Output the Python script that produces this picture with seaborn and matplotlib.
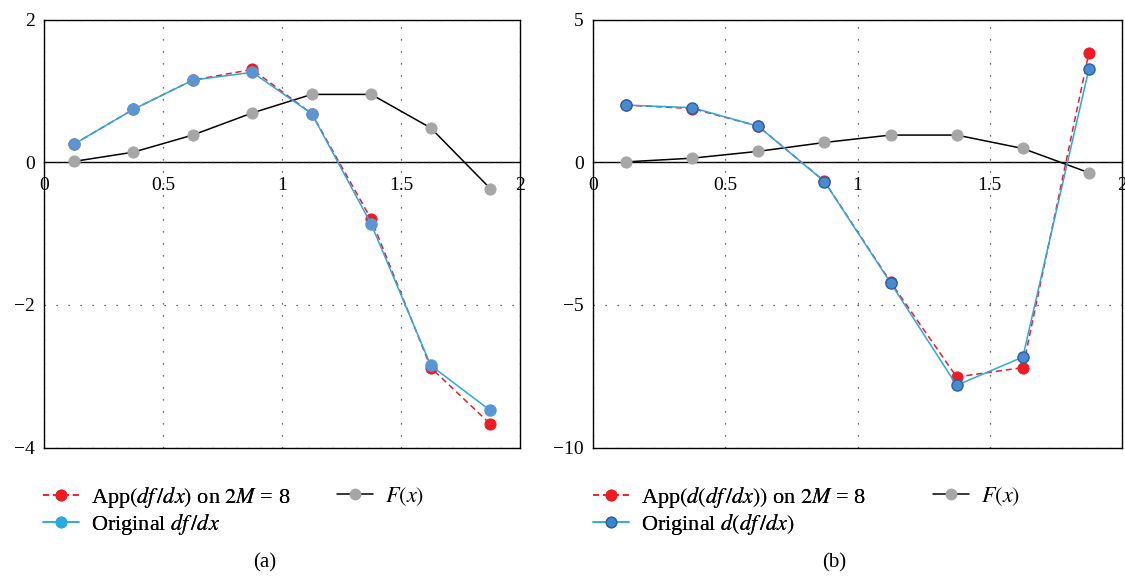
import matplotlib
matplotlib.use("Agg")
import matplotlib.pyplot as plt
from matplotlib.lines import Line2D
import numpy as np
import seaborn as sns

# ---------------- data ----------------
x_points = [0.125, 0.375, 0.625, 0.875, 1.125, 1.375, 1.625, 1.875]
F_values = [0.01, 0.14, 0.38, 0.69, 0.95, 0.95, 0.48, -0.37]

a_original = [0.25, 0.74, 1.15, 1.26, 0.68, -0.87, -2.85, -3.48]
a_approx = [0.25, 0.74, 1.15, 1.30, 0.68, -0.80, -2.88, -3.67]

b_original = [2.00, 1.91, 1.26, -0.68, -4.23, -7.82, -6.83, 3.27]
b_approx = [2.00, 1.88, 1.26, -0.67, -4.20, -7.53, -7.20, 3.84]

x_ticks = [0, 0.5, 1, 1.5, 2]
x_tick_labels = ["0", "0.5", "1", "1.5", "2"]
a_y_ticks = [-4, -2, 0, 2]
a_y_tick_labels = ["\u22124", "\u22122", "0", "2"]
b_y_ticks = [-10, -5, 0, 5]
b_y_tick_labels = ["\u221210", "\u22125", "0", "5"]

a_labels = [r"App$(df\,/dx)$ on $2M$ = 8", r"Original $df\,/dx$", r"$F(x)$"]
b_labels = [r"App$(d(df\,/dx))$ on $2M$ = 8", r"Original $d(df\,/dx)$", r"$F(x)$"]
captions = ["(a)", "(b)"]

# ---------------- style ----------------
sns.set_theme(style="white")
plt.rcParams["font.family"] = ["Liberation Serif", "DejaVu Serif"]
plt.rcParams["mathtext.fontset"] = "stix"
plt.rcParams["text.color"] = "black"
plt.rcParams["xtick.color"] = "black"
plt.rcParams["ytick.color"] = "black"

RED = "#ED1C24"
BLUE_LINE = "#29A9E1"
GRAY = "#A6A6A6"
TICK_FS = 14
LEG_FS = 16
DASH = (0, (4, 2.5))

W, H = 1125, 578
fig = plt.figure(figsize=(W / 100, H / 100), dpi=100)

ax_a = fig.add_axes([44 / W, 1 - 447.5 / H, 476 / W, 428 / H])
ax_b = fig.add_axes([593 / W, 1 - 447.5 / H, 529 / W, 428 / H])


def draw_panel(ax, orig, approx, ylim, yticks, yticklabels, labels,
               blue_face, blue_edge, leg_face, leg_edge,
               leg_x1, leg_x2, cap_x, caption):
    sns.lineplot(x=x_points, y=F_values, ax=ax, color="black", lw=1.1,
                 marker="o", markersize=8, markerfacecolor=GRAY,
                 markeredgecolor=GRAY, zorder=3)
    sns.lineplot(x=x_points, y=approx, ax=ax, color=RED, lw=1.1,
                 linestyle=DASH, marker="o", markersize=8,
                 markerfacecolor=RED, markeredgecolor=RED, zorder=4)
    sns.lineplot(x=x_points, y=orig, ax=ax, color=BLUE_LINE, lw=1.1,
                 marker="o", markersize=8, markerfacecolor=blue_face,
                 markeredgecolor=blue_edge, markeredgewidth=1.0, zorder=5)

    ax.set_xlim(0, 2)
    ax.set_ylim(*ylim)
    ax.set_xlabel("")
    ax.set_ylabel("")
    ax.set_xticks(x_ticks)
    ax.tick_params(axis="x", length=0, labelbottom=False)
    ax.set_yticks(yticks, yticklabels)
    ax.tick_params(axis="y", length=0, pad=6.5, labelsize=TICK_FS)
    ax.set_axisbelow(True)
    ax.grid(True, color="#333333", linestyle=(0, (1, 8.6)), linewidth=0.9)
    for sp in ax.spines.values():
        sp.set_color("black")
        sp.set_linewidth(1.0)
        sp.set_visible(True)

    # x-axis through y = 0 carrying the x tick labels
    frac0 = (0 - ylim[0]) / (ylim[1] - ylim[0])
    sax = ax.secondary_xaxis(frac0)
    sax.set_alignment("bottom")
    sax.set_xticks(x_ticks, x_tick_labels)
    sax.tick_params(length=0, pad=10.5, labelsize=TICK_FS)
    sax.spines["bottom"].set_color("black")
    sax.spines["bottom"].set_linewidth(1.0)

    h_app = Line2D([], [], color=RED, lw=1.1, linestyle=DASH, marker="o",
                   markersize=7.5, markerfacecolor=RED, markeredgecolor=RED)
    h_org = Line2D([], [], color=BLUE_LINE, lw=1.1, marker="o", markersize=7.5,
                   markerfacecolor=leg_face, markeredgecolor=leg_edge)
    h_F = Line2D([], [], color="black", lw=1.1, marker="o", markersize=7.5,
                 markerfacecolor=GRAY, markeredgecolor=GRAY)

    leg1 = fig.legend([h_app, h_org], labels[:2], loc="upper left",
                      bbox_to_anchor=(leg_x1 / W, 1 - 485 / H), frameon=False,
                      fontsize=LEG_FS, borderpad=0, borderaxespad=0,
                      handlelength=1.6, handletextpad=0.55, labelspacing=0.1)
    leg2 = fig.legend([h_F], labels[2:], loc="upper left",
                      bbox_to_anchor=(leg_x2 / W, 1 - 485 / H), frameon=False,
                      fontsize=LEG_FS, borderpad=0, borderaxespad=0,
                      handlelength=1.6, handletextpad=0.55)
    fig.add_artist(leg1)
    fig.text(cap_x / W, 1 - 563 / H, caption, ha="center", va="center",
             fontsize=15)


draw_panel(ax_a, a_original, a_approx, (-4, 2), a_y_ticks, a_y_tick_labels,
           a_labels, "#5B96D3", "#5B96D3", BLUE_LINE, BLUE_LINE,
           43, 337, 265, captions[0])
draw_panel(ax_b, b_original, b_approx, (-10, 5), b_y_ticks, b_y_tick_labels,
           b_labels, "#4A8BD0", "#2A5FA5", "#3A85D0", "#2A5FA5",
           593, 933, 834, captions[1])

fig.savefig("out.png", dpi=100)
